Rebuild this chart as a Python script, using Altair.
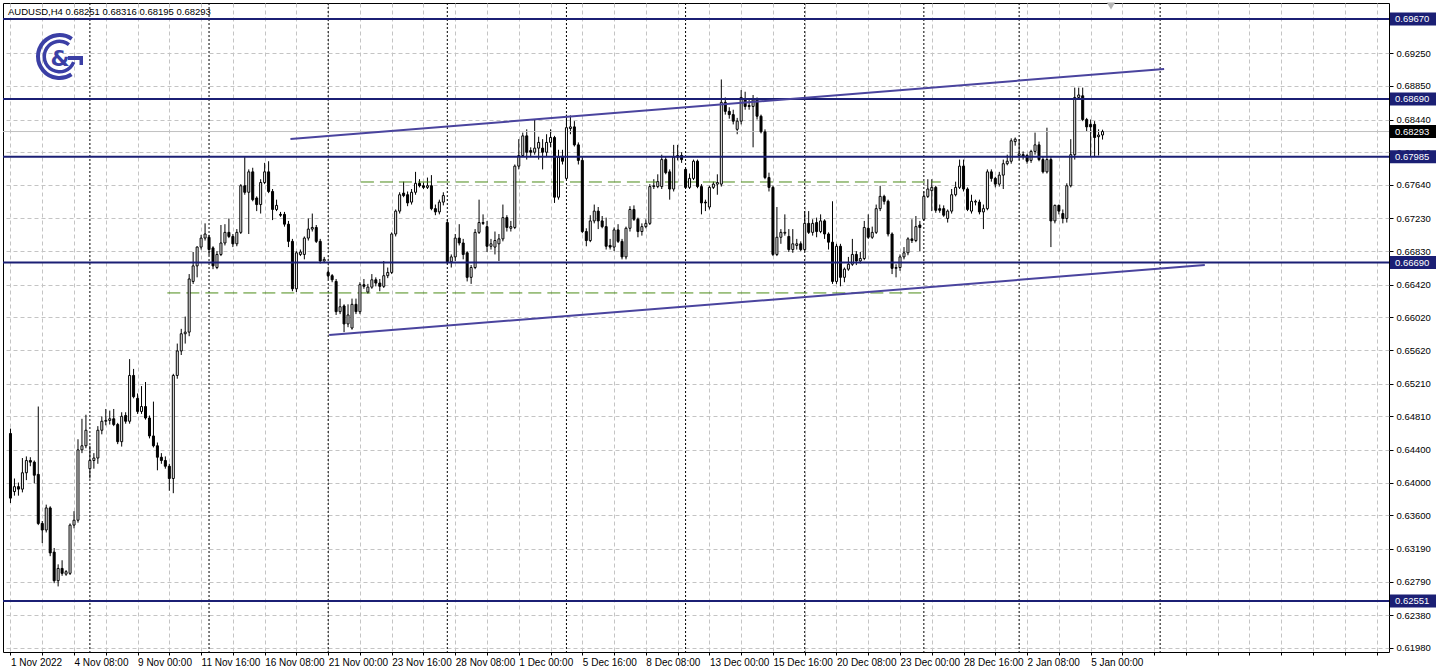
import altair as alt
import pandas as pd

# AUDUSD H4 bars, oldest first
bar_open = [
    0.6460, 0.6389, 0.6395, 0.6392, 0.6412, 0.6427, 0.6425, 0.6410, 0.6350, 0.6342,
    0.6369, 0.6315, 0.6280, 0.6295, 0.6288, 0.6289, 0.6348, 0.6354, 0.6440, 0.6445,
    0.6417, 0.6427, 0.6430, 0.6464, 0.6475, 0.6476, 0.6478, 0.6471, 0.6450, 0.6482,
    0.6475, 0.6531, 0.6503, 0.6487, 0.6493, 0.6479, 0.6457, 0.6445, 0.6431, 0.6427,
    0.6420, 0.6405, 0.6531, 0.6561, 0.6582, 0.6584, 0.6646, 0.6665, 0.6688, 0.6699,
    0.6700, 0.6687, 0.6663, 0.6679, 0.6693, 0.6706, 0.6701, 0.6692, 0.6706, 0.6763,
    0.6755, 0.6780, 0.6748, 0.6740, 0.6767, 0.6780, 0.6756, 0.6734, 0.6728, 0.6728,
    0.6716, 0.6695, 0.6637, 0.6679, 0.6679, 0.6699, 0.6710, 0.6712, 0.6695, 0.6671,
    0.6657, 0.6653, 0.6646, 0.6609, 0.6616, 0.6594, 0.6589, 0.6618, 0.6609, 0.6642,
    0.6633, 0.6639, 0.6648, 0.6644, 0.6640, 0.6653, 0.6657, 0.6704, 0.6732, 0.6754,
    0.6752, 0.6743, 0.6755, 0.6766, 0.6763, 0.6761, 0.6763, 0.6735, 0.6731, 0.6743,
    0.6718, 0.6670, 0.6676, 0.6699, 0.6693, 0.6681, 0.6651, 0.6663, 0.6706, 0.6718,
    0.6713, 0.6689, 0.6688, 0.6692, 0.6698, 0.6724, 0.6711, 0.6712, 0.6787, 0.6800,
    0.6824, 0.6806, 0.6804, 0.6809, 0.6809, 0.6804, 0.6816, 0.6822, 0.6749, 0.6799,
    0.6772, 0.6833, 0.6835, 0.6813, 0.6794, 0.6707, 0.6696, 0.6720, 0.6732, 0.6720,
    0.6713, 0.6690, 0.6688, 0.6709, 0.6695, 0.6676, 0.6711, 0.6734, 0.6722, 0.6707,
    0.6713, 0.6717, 0.6762, 0.6762, 0.6762, 0.6795, 0.6780, 0.6759, 0.6798, 0.6800,
    0.6783, 0.6761, 0.6772, 0.6793, 0.6762, 0.6743, 0.6737, 0.6761, 0.6765, 0.6765,
    0.6865, 0.6854, 0.6850, 0.6832, 0.6842, 0.6868, 0.6861, 0.6860, 0.6868, 0.6848,
    0.6829, 0.6773, 0.6761, 0.6679, 0.6700, 0.6705, 0.6701, 0.6685, 0.6690, 0.6692,
    0.6685, 0.6717, 0.6706, 0.6718, 0.6707, 0.6720, 0.6704, 0.6694, 0.6646, 0.6689,
    0.6651, 0.6661, 0.6667, 0.6679, 0.6671, 0.6674, 0.6711, 0.6700, 0.6706, 0.6735,
    0.6750, 0.6744, 0.6704, 0.6662, 0.6663, 0.6676, 0.6681, 0.6698, 0.6696, 0.6715,
    0.6722, 0.6750, 0.6757, 0.6761, 0.6735, 0.6735, 0.6723, 0.6732, 0.6752, 0.6761,
    0.6787, 0.6759, 0.6732, 0.6743, 0.6743, 0.6731, 0.6735, 0.6780, 0.6772, 0.6765,
    0.6776, 0.6790, 0.6793, 0.6817, 0.6800, 0.6801, 0.6800, 0.6794, 0.6805, 0.6813,
    0.6795, 0.6780, 0.6795, 0.6720, 0.6739, 0.6729, 0.6723, 0.6763, 0.6801, 0.6871,
    0.6873, 0.6844, 0.6838, 0.6838, 0.6823, 0.68251,
]
bar_high = [
    0.6466, 0.6405, 0.6400, 0.6430, 0.6432, 0.6431, 0.6427, 0.6493, 0.6353, 0.6373,
    0.6371, 0.6320, 0.6300, 0.6305, 0.6293, 0.6350, 0.6365, 0.6453, 0.6478, 0.6483,
    0.6445, 0.6436, 0.6469, 0.6481, 0.6490, 0.6488, 0.6490, 0.6473, 0.6486, 0.6486,
    0.6551, 0.6539, 0.6509, 0.6518, 0.6523, 0.6482, 0.6499, 0.6449, 0.6436, 0.6432,
    0.6423, 0.6533, 0.6570, 0.6588, 0.6603, 0.6655, 0.6682, 0.6689, 0.6703, 0.6717,
    0.6703, 0.6689, 0.6683, 0.6715, 0.6716, 0.6723, 0.6704, 0.6710, 0.6765, 0.6798,
    0.6783, 0.6785, 0.6750, 0.6771, 0.6791, 0.6793, 0.6759, 0.6746, 0.6731, 0.6731,
    0.6720, 0.6698, 0.6683, 0.6685, 0.6701, 0.6723, 0.6729, 0.6715, 0.6698, 0.6676,
    0.6661, 0.6655, 0.6649, 0.6625, 0.6618, 0.6618, 0.6625, 0.6625, 0.6645, 0.6649,
    0.6643, 0.6655, 0.6651, 0.6649, 0.6671, 0.6663, 0.6706, 0.6734, 0.6755, 0.6768,
    0.6756, 0.6759, 0.6780, 0.6771, 0.6767, 0.6773, 0.6776, 0.6740, 0.6746, 0.6755,
    0.6722, 0.6679, 0.6704, 0.6716, 0.6698, 0.6683, 0.6666, 0.6710, 0.6746, 0.6728,
    0.6720, 0.6698, 0.6707, 0.6704, 0.6740, 0.6727, 0.6720, 0.6789, 0.6820, 0.6828,
    0.6832, 0.6810, 0.6844, 0.6823, 0.6820, 0.6826, 0.6832, 0.6824, 0.6807, 0.6807,
    0.6850, 0.6849, 0.6842, 0.6816, 0.6798, 0.6711, 0.6727, 0.6740, 0.6737, 0.6726,
    0.6724, 0.6698, 0.6712, 0.6716, 0.6698, 0.6713, 0.6738, 0.6739, 0.6724, 0.6717,
    0.6722, 0.6765, 0.6771, 0.6777, 0.6801, 0.6798, 0.6783, 0.6813, 0.6813, 0.6804,
    0.6785, 0.6778, 0.6795, 0.6795, 0.6765, 0.6746, 0.6763, 0.6768, 0.6777, 0.6893,
    0.6871, 0.6859, 0.6856, 0.6846, 0.6880, 0.6878, 0.6868, 0.6874, 0.6871, 0.6850,
    0.6832, 0.6779, 0.6763, 0.6737, 0.6710, 0.6728, 0.6710, 0.6710, 0.6698, 0.6695,
    0.6732, 0.6732, 0.6722, 0.6724, 0.6728, 0.6722, 0.6706, 0.6744, 0.6692, 0.6692,
    0.6663, 0.6676, 0.6698, 0.6683, 0.6682, 0.6720, 0.6728, 0.6713, 0.6740, 0.6763,
    0.6752, 0.6746, 0.6706, 0.6667, 0.6679, 0.6688, 0.6700, 0.6722, 0.6726, 0.6720,
    0.6756, 0.6771, 0.6771, 0.6763, 0.6740, 0.6739, 0.6734, 0.6759, 0.6768, 0.6795,
    0.6795, 0.6761, 0.6752, 0.6746, 0.6746, 0.6740, 0.6783, 0.6783, 0.6774, 0.6780,
    0.6795, 0.6801, 0.6821, 0.6822, 0.6820, 0.6805, 0.6802, 0.6807, 0.6828, 0.6817,
    0.6798, 0.6834, 0.6798, 0.6740, 0.6740, 0.6734, 0.6766, 0.6820, 0.6883, 0.6883,
    0.6883, 0.6846, 0.6844, 0.6842, 0.6832, 0.68316,
]
bar_low = [
    0.6375, 0.6384, 0.6384, 0.6388, 0.6403, 0.6420, 0.6399, 0.6348, 0.6326, 0.6339,
    0.6310, 0.6277, 0.6273, 0.6286, 0.6286, 0.6287, 0.6344, 0.6351, 0.6436, 0.6442,
    0.6405, 0.6417, 0.6423, 0.6459, 0.6470, 0.6471, 0.6469, 0.6447, 0.6444, 0.6472,
    0.6472, 0.6503, 0.6484, 0.6484, 0.6477, 0.6454, 0.6443, 0.6415, 0.6423, 0.6417,
    0.6390, 0.6387, 0.6527, 0.6556, 0.6570, 0.6579, 0.6643, 0.6651, 0.6685, 0.6696,
    0.6678, 0.6661, 0.6661, 0.6677, 0.6690, 0.6699, 0.6688, 0.6689, 0.6704, 0.6752,
    0.6704, 0.6744, 0.6732, 0.6729, 0.6765, 0.6754, 0.6721, 0.6732, 0.6725, 0.6713,
    0.6688, 0.6634, 0.6633, 0.6677, 0.6673, 0.6696, 0.6707, 0.6693, 0.6668, 0.6670,
    0.6649, 0.6645, 0.6605, 0.6606, 0.6584, 0.6590, 0.6587, 0.6606, 0.6606, 0.6637,
    0.6631, 0.6637, 0.6640, 0.6634, 0.6638, 0.6650, 0.6655, 0.6701, 0.6729, 0.6749,
    0.6738, 0.6740, 0.6752, 0.6761, 0.6759, 0.6759, 0.6733, 0.6727, 0.6728, 0.6739,
    0.6667, 0.6663, 0.6671, 0.6690, 0.6673, 0.6646, 0.6643, 0.6661, 0.6704, 0.6715,
    0.6682, 0.6685, 0.6679, 0.6671, 0.6695, 0.6707, 0.6707, 0.6710, 0.6783, 0.6798,
    0.6795, 0.6798, 0.6801, 0.6795, 0.6783, 0.6798, 0.6810, 0.6742, 0.6746, 0.6789,
    0.6770, 0.6826, 0.6811, 0.6789, 0.6705, 0.6689, 0.6694, 0.6717, 0.6710, 0.6711,
    0.6685, 0.6685, 0.6683, 0.6693, 0.6673, 0.6673, 0.6707, 0.6720, 0.6700, 0.6702,
    0.6711, 0.6715, 0.6759, 0.6760, 0.6759, 0.6777, 0.6746, 0.6756, 0.6794, 0.6791,
    0.6759, 0.6759, 0.6770, 0.6760, 0.6728, 0.6732, 0.6734, 0.6759, 0.6752, 0.6762,
    0.6850, 0.6845, 0.6838, 0.6826, 0.6838, 0.6856, 0.6856, 0.6810, 0.6844, 0.6827,
    0.6771, 0.6756, 0.6677, 0.6677, 0.6692, 0.6702, 0.6682, 0.6681, 0.6685, 0.6683,
    0.6683, 0.6704, 0.6702, 0.6700, 0.6705, 0.6698, 0.6685, 0.6643, 0.6643, 0.6640,
    0.6645, 0.6659, 0.6665, 0.6666, 0.6668, 0.6672, 0.6698, 0.6698, 0.6704, 0.6732,
    0.6740, 0.6701, 0.6655, 0.6651, 0.6659, 0.6673, 0.6678, 0.6693, 0.6694, 0.6683,
    0.6720, 0.6748, 0.6732, 0.6730, 0.6730, 0.6725, 0.6718, 0.6729, 0.6750, 0.6759,
    0.6756, 0.6732, 0.6729, 0.6739, 0.6728, 0.6710, 0.6733, 0.6768, 0.6761, 0.6762,
    0.6759, 0.6788, 0.6790, 0.6812, 0.6795, 0.6795, 0.6790, 0.6791, 0.6801, 0.6793,
    0.6778, 0.6778, 0.6688, 0.6717, 0.6728, 0.6717, 0.6718, 0.6761, 0.6795, 0.6868,
    0.6842, 0.6829, 0.6798, 0.6798, 0.6800, 0.68195,
]
bar_close = [
    0.6381, 0.6395, 0.6392, 0.6412, 0.6427, 0.6425, 0.6409, 0.6350, 0.6342, 0.6369,
    0.6314, 0.6280, 0.6295, 0.6289, 0.6291, 0.6348, 0.6354, 0.6440, 0.6445, 0.6464,
    0.6427, 0.6430, 0.6464, 0.6475, 0.6476, 0.6478, 0.6471, 0.6450, 0.6481, 0.6475,
    0.6531, 0.6505, 0.6487, 0.6493, 0.6479, 0.6457, 0.6445, 0.6431, 0.6427, 0.6420,
    0.6405, 0.6531, 0.6561, 0.6582, 0.6584, 0.6649, 0.6665, 0.6688, 0.6699, 0.6704,
    0.6685, 0.6665, 0.6679, 0.6693, 0.6706, 0.6701, 0.6692, 0.6706, 0.6763, 0.6755,
    0.6780, 0.6746, 0.6740, 0.6767, 0.6780, 0.6756, 0.6734, 0.6739, 0.6727, 0.6716,
    0.6695, 0.6637, 0.6681, 0.6682, 0.6699, 0.6710, 0.6712, 0.6695, 0.6671, 0.6673,
    0.6653, 0.6648, 0.6609, 0.6615, 0.6594, 0.6605, 0.6618, 0.6609, 0.6642, 0.6640,
    0.6639, 0.6648, 0.6644, 0.6640, 0.6653, 0.6657, 0.6704, 0.6732, 0.6752, 0.6751,
    0.6742, 0.6755, 0.6766, 0.6763, 0.6761, 0.6763, 0.6735, 0.6731, 0.6743, 0.6751,
    0.6670, 0.6676, 0.6699, 0.6693, 0.6679, 0.6651, 0.6663, 0.6706, 0.6718, 0.6717,
    0.6689, 0.6692, 0.6696, 0.6698, 0.6724, 0.6712, 0.6713, 0.6787, 0.6800, 0.6824,
    0.6804, 0.6804, 0.6809, 0.6816, 0.6804, 0.6816, 0.6822, 0.6749, 0.6798, 0.6793,
    0.6834, 0.6835, 0.6813, 0.6794, 0.6707, 0.6696, 0.6720, 0.6732, 0.6720, 0.6713,
    0.6689, 0.6688, 0.6709, 0.6695, 0.6676, 0.6711, 0.6734, 0.6722, 0.6707, 0.6713,
    0.6717, 0.6762, 0.6763, 0.6768, 0.6795, 0.6779, 0.6759, 0.6798, 0.6800, 0.6795,
    0.6761, 0.6772, 0.6793, 0.6762, 0.6742, 0.6742, 0.6761, 0.6765, 0.6767, 0.6865,
    0.6854, 0.6850, 0.6842, 0.6842, 0.6871, 0.6860, 0.6860, 0.6868, 0.6848, 0.6829,
    0.6773, 0.6761, 0.6679, 0.6700, 0.6706, 0.6706, 0.6685, 0.6692, 0.6692, 0.6685,
    0.6717, 0.6706, 0.6717, 0.6707, 0.6720, 0.6704, 0.6694, 0.6646, 0.6689, 0.6651,
    0.6661, 0.6667, 0.6679, 0.6671, 0.6674, 0.6712, 0.6700, 0.6706, 0.6735, 0.6750,
    0.6744, 0.6704, 0.6662, 0.6663, 0.6676, 0.6681, 0.6698, 0.6696, 0.6713, 0.6712,
    0.6750, 0.6759, 0.6761, 0.6733, 0.6733, 0.6727, 0.6732, 0.6752, 0.6761, 0.6787,
    0.6759, 0.6734, 0.6744, 0.6744, 0.6731, 0.6735, 0.6780, 0.6772, 0.6765, 0.6776,
    0.6790, 0.6793, 0.6818, 0.6820, 0.6802, 0.6799, 0.6793, 0.6805, 0.6813, 0.6795,
    0.6780, 0.6795, 0.6720, 0.6739, 0.6732, 0.6723, 0.6763, 0.6801, 0.6871, 0.6874,
    0.6844, 0.6835, 0.6835, 0.6822, 0.6825, 0.68293,
]

# time-axis labels, one every 16 bars
x_labels = [
    "1 Nov 2022", "4 Nov 08:00", "9 Nov 00:00", "11 Nov 16:00", "16 Nov 08:00",
    "21 Nov 00:00", "23 Nov 16:00", "28 Nov 08:00", "1 Dec 00:00", "5 Dec 16:00",
    "8 Dec 08:00", "13 Dec 00:00", "15 Dec 16:00", "20 Dec 08:00", "23 Dec 00:00",
    "28 Dec 16:00", "2 Jan 08:00", "5 Jan 00:00",
]
# price-axis ticks
y_ticks = [0.6198, 0.6238, 0.6279, 0.6319, 0.6360, 0.6400, 0.6440, 0.6481, 0.6521,
           0.6562, 0.6602, 0.6642, 0.6683, 0.6723, 0.6764, 0.6804, 0.6844, 0.6885,
           0.6925]

# horizontal support / resistance levels
levels = [0.69670, 0.68690, 0.67985, 0.66690, 0.62551]
# weekly period separators (bar positions)
week_starts = [20, 50, 80, 110, 140, 170, 200, 230, 254, 289.5]
# rising channel: (bar_from, price_from, bar_to, price_to)
channel_x0 = [70.5, 80.25]
channel_y0 = [0.68202, 0.65805]
channel_x1 = [290.5, 300.75]
channel_y1 = [0.69058, 0.66661]
# dashed range boundaries
range_x0 = [88.25, 39.5]
range_x1 = [234.25, 230.0]
range_y = [0.67676, 0.66319]

symbol_line = "AUDUSD,H4  0.68251 0.68316 0.68195 0.68293"
last_price = bar_close[-1]

W, H = 1386, 649
NAVY = "#1b1f74"
CHANNEL = "#4a449e"
GREEN = "#4b8b17"
LOGO = "#3b3fa5"

bars = pd.DataFrame({
    "i": range(len(bar_close)),
    "open": bar_open, "high": bar_high, "low": bar_low, "close": bar_close,
})
bars["up"] = bars["close"] >= bars["open"]

x_scale = alt.Scale(domain=[-0.625, 345.875], nice=False, zero=False)
y_scale = alt.Scale(domain=[0.61928, 0.69865], nice=False, zero=False)

label_array = "[" + ",".join("'%s'" % s for s in x_labels) + "]"
label_expr = (
    f"datum.value % 16 == 0 && datum.value / 16 < {len(x_labels)} "
    f"? {label_array}[datum.value / 16] : ''"
)

x_axis = alt.Axis(
    values=list(range(0, 346, 8)), labelExpr=label_expr, title=None,
    grid=True, gridColor="#c4c4c4", gridDash=[4, 3], gridWidth=1,
    tickSize=3, tickColor="#000", labelAlign="left", labelBaseline="top",
    labelPadding=2, labelFlush=False, labelOverlap=False, domain=False,
    labelFont="Liberation Sans", labelFontSize=10, labelColor="#000",
)
y_axis = alt.Axis(
    values=y_ticks, format=".5f", orient="right", title=None,
    grid=True, gridColor="#c4c4c4", gridDash=[4, 3], gridWidth=1,
    tickSize=4, tickColor="#000", labelPadding=3, domain=False,
    labelFont="Liberation Sans", labelFontSize=9.5, labelColor="#000",
    labelOverlap=False, labelFlush=False,
)


def X(field):
    return alt.X(field, type="quantitative", scale=x_scale, axis=x_axis)


def Y(field):
    return alt.Y(field, type="quantitative", scale=y_scale, axis=y_axis)


base = alt.Chart(bars)

wicks = base.mark_rule(color="#000", strokeWidth=1).encode(
    x=X("i"), y=Y("low"), y2="high:Q",
)
bodies = base.mark_bar(width=2, stroke="#000", strokeWidth=1, opacity=1).encode(
    x=X("i"), y=Y("open"), y2="close:Q",
    fill=alt.condition("datum.up", alt.value("#ffffff"), alt.value("#000000")),
)

sep = alt.Chart(pd.DataFrame({"i": week_starts})).mark_rule(
    color="#000", strokeDash=[2, 2], strokeWidth=1
).encode(x=X("i"))

ranges = alt.Chart(pd.DataFrame({"a": range_x0, "b": range_x1, "p": range_y})).mark_rule(
    color=GREEN, strokeDash=[13, 6], strokeWidth=1
).encode(x=X("a"), x2="b:Q", y=Y("p"))

price_line = alt.Chart(pd.DataFrame({"p": [last_price]})).mark_rule(
    color="#c0c0c0", strokeWidth=1
).encode(y=Y("p"), x=alt.value(0), x2=alt.value(W))

level_lines = alt.Chart(pd.DataFrame({"p": levels})).mark_rule(
    color=NAVY, strokeWidth=2
).encode(y=Y("p"), x=alt.value(0), x2=alt.value(W))

channel = alt.Chart(pd.DataFrame({
    "a": channel_x0, "b": channel_x1, "p": channel_y0, "q": channel_y1,
})).mark_rule(color=CHANNEL, strokeWidth=2).encode(
    x=X("a"), x2="b:Q", y=Y("p"), y2="q:Q",
)

# price tags on the right axis
tag_df = pd.DataFrame({
    "p": levels + [last_price],
    "txt": ["%.5f" % v for v in levels] + ["%.5f" % last_price],
    "bg": [NAVY] * len(levels) + ["#000000"],
})
tags = alt.Chart(tag_df).mark_tick(
    orient="horizontal", size=46, thickness=13, opacity=1
).encode(
    y=Y("p"), x=alt.value(W + 24),
    color=alt.Color("bg:N", scale=None, legend=None),
)
tag_text = alt.Chart(tag_df).mark_text(
    align="left", baseline="middle", color="#fff",
    font="Liberation Sans", fontSize=9.5,
).encode(y=Y("p"), x=alt.value(W + 6), text="txt:N")

one = pd.DataFrame({"k": [0]})
title = alt.Chart(one).mark_text(
    align="left", baseline="middle", color="#000",
    font="Liberation Sans", fontSize=9.5,
).encode(x=alt.value(5), y=alt.value(9), text=alt.value(symbol_line))

shift_marker = alt.Chart(one).mark_point(
    shape="triangle-down", filled=True, color="#b4b4b4", size=70, opacity=1
).encode(x=alt.value(1108), y=alt.value(3))

# company mark: open ring, inner G with crossbar and ampersand
LX, LY = 56.5, 53.5
ring = alt.Chart(one).mark_arc(
    radius=23.5, radius2=19.5, theta=2.55, theta2=6.89, color=LOGO
).encode(x=alt.value(LX), y=alt.value(LY))
g_arc = alt.Chart(one).mark_arc(
    radius=17, radius2=13.5, theta=1.95, theta2=6.95, color=LOGO
).encode(x=alt.value(LX), y=alt.value(LY))
g_bar = alt.Chart(one).mark_rect(color=LOGO).encode(
    x=alt.value(65), x2=alt.value(80), y=alt.value(53), y2=alt.value(57)
)
g_stem = alt.Chart(one).mark_rect(color=LOGO).encode(
    x=alt.value(76.5), x2=alt.value(80), y=alt.value(53), y2=alt.value(62)
)
amp = alt.Chart(one).mark_text(
    text="&", font="DejaVu Sans", fontSize=22, fontWeight="bold", color=LOGO,
    align="center", baseline="middle",
).encode(x=alt.value(57), y=alt.value(56))

chart = alt.layer(
    wicks, sep, ranges, price_line, bodies, level_lines, channel,
    tags, tag_text, title, shift_marker, ring, g_arc, g_bar, g_stem, amp,
).properties(
    width=W, height=H,
    padding={"left": 3, "top": 3, "right": 49, "bottom": 19},
    autosize=alt.AutoSizeParams(type="none"),
    background="#ffffff",
).configure_view(stroke="#000000", strokeWidth=1)

chart.save("out.html", embed_options={"renderer": "svg", "actions": False})
